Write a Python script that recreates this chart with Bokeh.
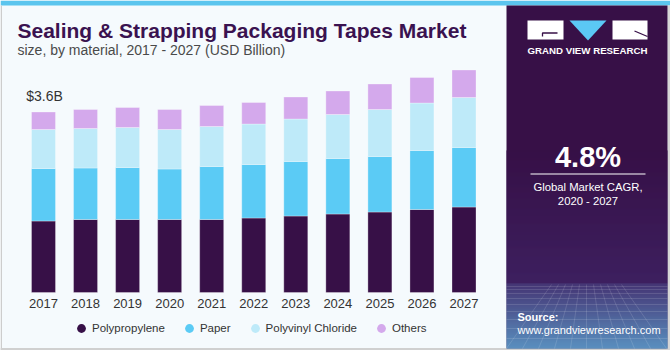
import numpy as np
from bokeh.plotting import figure
from bokeh.models import ColumnDataSource, Range1d, Legend, LegendItem
from bokeh.core.properties import value
from bokeh.embed import file_html
from bokeh.resources import INLINE

# ---------------- data ----------------
years = [2017, 2018, 2019, 2020, 2021, 2022, 2023, 2024, 2025, 2026, 2027]
year_labels = [str(y) for y in years]
polypropylene = [1.43, 1.46, 1.46, 1.46, 1.46, 1.49, 1.53, 1.57, 1.61, 1.66, 1.71]
paper = [1.05, 1.03, 1.04, 1.01, 1.06, 1.07, 1.09, 1.11, 1.11, 1.18, 1.19]
polyvinyl_chloride = [0.78, 0.79, 0.80, 0.79, 0.80, 0.81, 0.85, 0.88, 0.94, 0.95, 1.00]
others = [0.35, 0.38, 0.40, 0.40, 0.42, 0.43, 0.44, 0.47, 0.51, 0.51, 0.55]
series_names = ["Polypropylene", "Paper", "Polyvinyl Chloride", "Others"]
series_colors = ["#371047", "#5BCBF5", "#BEEAF9", "#D4A9EC"]

title_text = "Sealing & Strapping Packaging Tapes Market"
subtitle_text = "size, by material, 2017 - 2027 (USD Billion)"
cagr_text = "4.8%"
cagr_label = ["Global Market CAGR,", "2020 - 2027"]

# ---------------- figure ----------------
W, H = 670, 350
PX_PER_YEAR = 42.05
PX_PER_UNIT = 50.0
x_start = years[0] - 43 / PX_PER_YEAR
y_start = -58 / PX_PER_UNIT

p = figure(width=W, height=H,
           x_range=Range1d(x_start, x_start + W / PX_PER_YEAR),
           y_range=Range1d(y_start, y_start + H / PX_PER_UNIT),
           x_axis_type=None, y_axis_type=None, min_border=0,
           toolbar_location=None, output_backend="svg",
           background_fill_color="#F5FAFD", border_fill_color="#F5FAFD",
           outline_line_color=None)
p.grid.visible = False
p.extra_x_ranges = {"px": Range1d(0, W)}
p.extra_y_ranges = {"px": Range1d(H, 0)}

FONT_NAME = "Liberation Sans"
FONT = value(FONT_NAME)
BASE_FIX = 0.28  # em fraction correcting the rendered baseline


def box(l, t, r, b, color, alpha=1.0):
    p.quad(left=l, right=r, top=t, bottom=b, fill_color=color, fill_alpha=alpha,
           line_color=None, x_range_name="px", y_range_name="px")


def txt(x, y, s, size, color, style="normal", align="left"):
    p.text(x=[x], y=[y], text=[s], text_font=FONT, text_font_size=f"{size}px",
           text_font_style=style, text_color=color, text_align=align,
           text_baseline="alphabetic", y_offset=-BASE_FIX * size,
           x_range_name="px", y_range_name="px")


def hex2rgb(h):
    h = h.lstrip("#")
    return np.array([int(h[i:i + 2], 16) for i in (0, 2, 4)], dtype=float)


def lerp_colors(c0, c1, n):
    a, b = hex2rgb(c0), hex2rgb(c1)
    out = []
    for t in np.linspace(0, 1, n):
        r, g, bb = (a + (b - a) * t).round().astype(int)
        out.append("#%02x%02x%02x" % (r, g, bb))
    return out

# ---------------- frame decorations ----------------
box(0, 0, W, 5, "#5BC5EE")
box(0, 5, 1.5, H, "#CDCDCD")
box(0, 347.5, W, H, "#D0D0D0")
box(667, 5, W, H, "#D6D6D6")

# right panel
box(506, 5, 667, 348, "#371047")
g1_top = np.arange(150, 283)
cols1 = lerp_colors("#371047", "#402568", len(g1_top))
p.quad(left=506, right=667, top=g1_top, bottom=g1_top + 1, fill_color=cols1,
       line_color=None, x_range_name="px", y_range_name="px")
g2_top = np.arange(283, 348)
cols2 = lerp_colors("#4A4283", "#66B8E6", len(g2_top))
p.quad(left=506, right=667, top=g2_top, bottom=g2_top + 1, fill_color=cols2,
       line_color=None, x_range_name="px", y_range_name="px")

# faint perspective grid
hy = [286, 289, 293, 298, 304, 311, 319, 328, 338]
p.segment(x0=[506] * len(hy), x1=[667] * len(hy), y0=hy, y1=hy,
          line_color="white", line_alpha=0.13, line_width=1,
          x_range_name="px", y_range_name="px")
ks = np.arange(-5, 6)
p.segment(x0=586 + ks * 7, x1=586 + ks * 16, y0=[284] * len(ks), y1=[348] * len(ks),
          line_color="white", line_alpha=0.13, line_width=1,
          x_range_name="px", y_range_name="px")

# logo
box(527, 20, 563, 39, "white")
p.patch(x=[569, 606, 587.5], y=[20, 20, 40], fill_color="#5BC8F5", line_color=None,
        x_range_name="px", y_range_name="px")
box(612, 20, 647, 39, "white")
p.line(x=[542, 542, 557], y=[36, 32.5, 32.5], line_color="#371047", line_width=1.3,
       x_range_name="px", y_range_name="px")
p.line(x=[634, 647], y=[30.5, 36], line_color="#371047", line_width=1.3,
       x_range_name="px", y_range_name="px")
txt(587, 53, "GRAND VIEW RESEARCH", 9.7, "white", "bold", "center")

# CAGR block
txt(587.5, 165, cagr_text, 29, "white", "bold", "center")
p.segment(x0=[530], x1=[645], y0=[173.5], y1=[173.5], line_color="white",
          line_width=1, x_range_name="px", y_range_name="px")
txt(587.5, 189.5, cagr_label[0], 11.3, "white", "normal", "center")
txt(587.5, 204, cagr_label[1], 11.3, "white", "normal", "center")

# source
txt(517, 320, "Source:", 11, "white", "bold")
txt(517, 333, "www.grandviewresearch.com", 11, "white")

# titles
txt(17, 35.5, title_text, 21, "#3A1250", "bold")
txt(17, 53, subtitle_text, 14, "#4A4A4A")

# ---------------- bars ----------------
source = ColumnDataSource(data={
    "year": years,
    series_names[0]: polypropylene,
    series_names[1]: paper,
    series_names[2]: polyvinyl_chloride,
    series_names[3]: others,
})
p.vbar_stack(series_names, x="year", width=24 / PX_PER_YEAR, color=series_colors,
             line_color="white", line_alpha=0.3, line_width=1, source=source)

# total label for first year
total0 = polypropylene[0] + paper[0] + polyvinyl_chloride[0] + others[0]
p.text(x=[years[0]], y=[total0], text=[f"${total0:.1f}B"], text_font=FONT,
       text_font_size="14px", text_color="#333333", text_align="center",
       text_baseline="alphabetic", x_offset=1, y_offset=-12 - BASE_FIX * 14)

# year labels
p.text(x=years, y=[0] * len(years), text=year_labels, text_font=FONT,
       text_font_size="13px", text_color="#333333", text_align="center",
       text_baseline="alphabetic", y_offset=15 - BASE_FIX * 13)

# ---------------- legend ----------------
legend_renderers = [p.scatter(x=[np.nan], y=[np.nan], marker="circle", size=9,
                              fill_color=c, line_color=None)
                    for c in series_colors]
legend = Legend(items=[LegendItem(label=n, renderers=[r])
                       for n, r in zip(series_names, legend_renderers)],
                orientation="horizontal", location=(70, 11),
                glyph_width=22, glyph_height=22, label_standoff=0, spacing=13,
                padding=0, margin=0, background_fill_alpha=0, border_line_color=None,
                label_text_font=FONT_NAME, label_text_font_size="11.5px",
                label_text_color="#333333")
p.add_layout(legend)

open("out.html", "w").write(file_html(p, INLINE))
